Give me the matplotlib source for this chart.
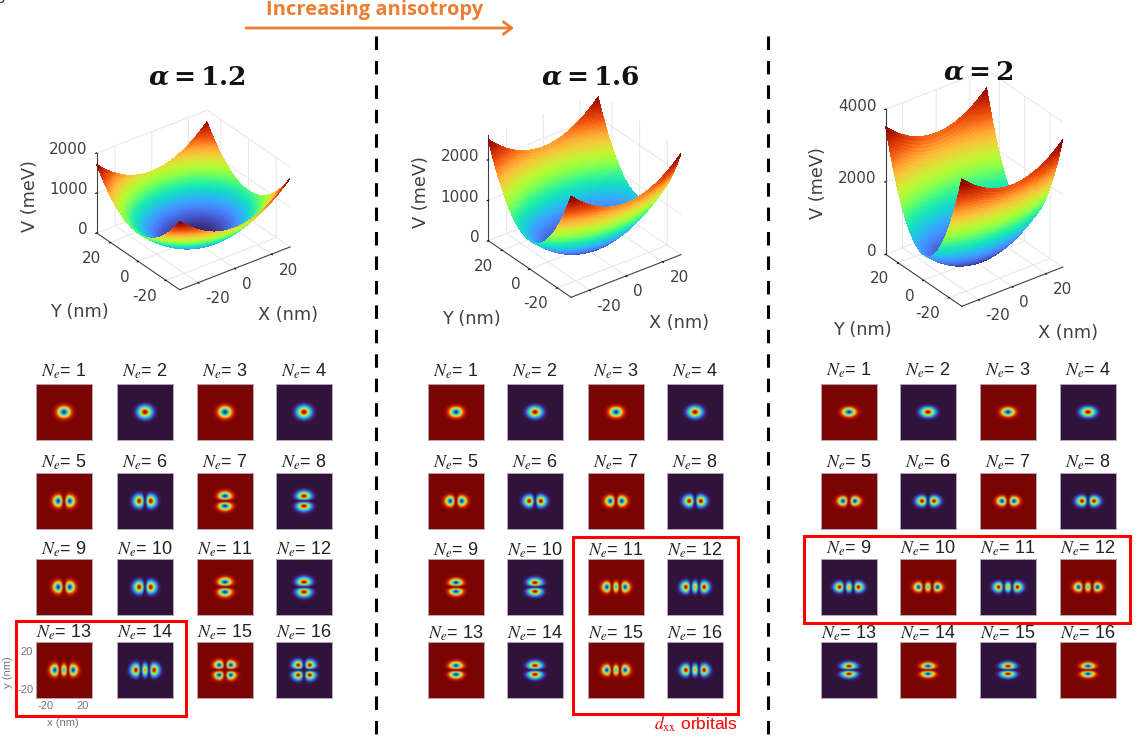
import numpy as np
import matplotlib
matplotlib.use('Agg')
import matplotlib.pyplot as plt
from matplotlib.patches import Rectangle
from mpl_toolkits.mplot3d import proj3d

plt.rcParams['font.family'] = ['Liberation Sans', 'DejaVu Sans']
plt.rcParams['grid.color'] = '#e6e6e6'
plt.rcParams['grid.linewidth'] = 0.7
plt.rcParams['axes.unicode_minus'] = False

W, H = 1136, 736

# potential model: V = k (x^2 + (alpha y)^2), corners at +-30 nm
alphas = ['1.2', '1.6', '2']
alpha_values = [1.2, 1.6, 2.0]
k_mev = 0.78
xy_limit = 30
z_tops = [2000, 2600, 4000]
z_ticks = [[0, 1000, 2000], [0, 1000, 2000], [0, 2000, 4000]]
xy_ticks = [-20, 0, 20]

# orbital quantum numbers for Ne = 1..16 in each panel
nx_1 = [0, 0, 0, 0, 1, 1, 0, 0, 1, 1, 0, 0, 2, 2, 1, 1]
ny_1 = [0, 0, 0, 0, 0, 0, 1, 1, 0, 0, 1, 1, 0, 0, 1, 1]
nx_2 = [0, 0, 0, 0, 1, 1, 1, 1, 0, 0, 2, 2, 0, 0, 2, 2]
ny_2 = [0, 0, 0, 0, 0, 0, 0, 0, 1, 1, 0, 0, 1, 1, 0, 0]
nx_3 = [0, 0, 0, 0, 1, 1, 1, 1, 2, 2, 2, 2, 0, 0, 0, 0]
ny_3 = [0, 0, 0, 0, 0, 0, 0, 0, 0, 0, 0, 0, 1, 1, 1, 1]
# orbital widths in nm
widths_x = [6.2, 6.2, 6.4]
widths_y = [5.3, 4.7, 4.1]
# 'r' = dark red background, 'p' = dark purple background
tile_bg_1 = list('rprprprprprprprp')
tile_bg_2 = list('rprprprprprprprp')
tile_bg_3 = list('rprprprpprprprpr')

# layout in reference pixels
tile_cols = [[36, 117, 197, 276], [428, 507, 588, 667], [821, 900, 980, 1060]]
tile_rows = [384, 473, 559, 642]
label_rows = [[371, 462, 549, 632], [371, 462, 550, 633], [370, 462, 548, 633]]
tile_size = 56
# left, front and right floor corners, and top of the z axis
floors = [
    [(96.7, 233.0), (180.0, 289.3), (290.0, 246.7), 153.3],
    [(488.3, 240.7), (572.3, 296.7), (681.0, 255.0), 136.7],
    [(885.7, 254.3), (961.7, 306.0), (1062.7, 267.3), 109.3],
]
title_pos = [(197, 78), (590, 78), (978, 73)]
v_label_pos = [(30, 196), (421, 192), (818, 183)]
y_label_pos = [(79, 312), (471, 319), (862, 330)]
x_label_pos = [(288, 315), (679, 323), (1068, 333)]
red_boxes = [(15.7, 620.7, 170, 95), (573, 537.3, 164.7, 176.7), (804, 536, 326, 87)]
divider_x = [376, 768]

ORANGE = '#ed7d31'
RED = '#fe0000'
TEXT = '#404040'


def px_rect(left, top, width, height):
    return [left / W, 1 - (top + height) / H, width / W, height / H]


def hermite(n, u):
    return [np.ones_like(u), u, 2 * u ** 2 - 1][n]


def orbital_density(nx, ny, wx, wy):
    x = np.linspace(-xy_limit, xy_limit, 121)
    xx, yy = np.meshgrid(x, x)
    psi = hermite(nx, xx / wx) * hermite(ny, yy / wy)
    rho = psi ** 2 * np.exp(-(xx / wx) ** 2 - (yy / wy) ** 2)
    return rho / rho.max()


def draw_tile(fig, left, top, nx, ny, wx, wy, bg):
    ax = fig.add_axes(px_rect(left, top, tile_size, tile_size))
    cmap = 'turbo_r' if bg == 'r' else 'turbo'
    ax.imshow(orbital_density(nx, ny, wx, wy), cmap=cmap, vmin=0, vmax=1, origin='lower',
              extent=[-xy_limit, xy_limit, -xy_limit, xy_limit], interpolation='bicubic')
    ax.set_xticks([])
    ax.set_yticks([])
    for spine in ax.spines.values():
        spine.set_color('#b5a5b5')
        spine.set_linewidth(0.7)
    return ax


def corner_pixels(ax, points):
    """ Project 3D points to reference pixels. """
    ax.apply_aspect()
    out = []
    for p in points:
        x2, y2, _ = proj3d.proj_transform(p[0], p[1], p[2], ax.get_proj())
        d = ax.transData.transform((x2, y2))
        out.append((d[0], H - d[1]))
    return out


def fit_axes(ax, floor):
    """ Move the 3D axes so the floor corners land where the reference has them. """
    left, front, right, _ = floor
    size = 400.0
    cx, cy = left[0] + 100, left[1]
    for _ in range(3):
        ax.set_position(px_rect(cx - size / 2, cy - size / 2, size, size))
        a, b = corner_pixels(ax, [(-xy_limit, xy_limit, 0), (xy_limit, -xy_limit, 0)])
        scale = (right[0] - left[0]) / (b[0] - a[0])
        size *= scale
        ax.set_position(px_rect(cx - size / 2, cy - size / 2, size, size))
        a = corner_pixels(ax, [(-xy_limit, xy_limit, 0)])[0]
        cx += left[0] - a[0]
        cy += left[1] - a[1]
    ax.set_position(px_rect(cx - size / 2, cy - size / 2, size, size))


def draw_surface(fig, i):
    floor = floors[i]
    zmax = z_tops[i]
    length = (floor[2][0] - floor[1][0]) / 0.8
    z_height = (floor[0][1] - floor[3])
    ax = fig.add_axes([0.1, 0.1, 0.3, 0.3], projection='3d', proj_type='ortho')
    ax.view_init(elev=31, azim=-127)
    ax.set_box_aspect((1, 1, z_height / np.cos(np.radians(31)) / length))
    ax.set_xlim(-xy_limit, xy_limit, view_margin=0)
    ax.set_ylim(-xy_limit, xy_limit, view_margin=0)
    ax.set_zlim(0, zmax, view_margin=0)
    fit_axes(ax, floor)
    ax.patch.set_visible(False)

    x = np.linspace(-xy_limit, xy_limit, 121)
    xx, yy = np.meshgrid(x, x)
    vv = k_mev * (xx ** 2 + (alpha_values[i] * yy) ** 2)
    colors = plt.get_cmap('turbo')(vv / vv.max())
    ax.plot_surface(xx, yy, vv, facecolors=colors, rcount=121, ccount=121,
                    shade=False, linewidth=0, antialiased=False)

    ax.set_xticks(xy_ticks)
    ax.set_yticks(xy_ticks)
    ax.set_zticks(z_ticks[i])
    # tick labels go on the overlay, mplot3d can not offset them the way the reference does
    ax.set_xticklabels([])
    ax.set_yticklabels([])
    ax.set_zticklabels([])
    for axis in (ax.xaxis, ax.yaxis, ax.zaxis):
        axis.set_pane_color((1, 1, 1, 0))
        axis.pane.set_edgecolor('#e6e6e6')
        axis.line.set_color(TEXT)
        axis.line.set_linewidth(0.8)
        axis._axinfo['tick'].update({'inward_factor': 0.12, 'outward_factor': 0.0, 'color': TEXT})
    return ax


def label_ticks(overlay, ax, i):
    """ Put tick labels next to the projected tick positions. """
    style = dict(fontsize=11, color=TEXT, family='DejaVu Sans', va='center')
    for t in xy_ticks:
        px, py = corner_pixels(ax, [(t, -xy_limit, 0)])[0]
        overlay.text(px + 7, py + 16, str(t), ha='left', **style)
        px, py = corner_pixels(ax, [(-xy_limit, t, 0)])[0]
        overlay.text(px - 9, py + 16, str(t), ha='right', **style)
    for t in z_ticks[i]:
        px, py = corner_pixels(ax, [(-xy_limit, xy_limit, t)])[0]
        overlay.text(px - 9, py - 3, str(t), ha='right', **style)


fig = plt.figure(figsize=(W / 100, H / 100), dpi=100, facecolor='white')

panel_nx = [nx_1, nx_2, nx_3]
panel_ny = [ny_1, ny_2, ny_3]
panel_bg = [tile_bg_1, tile_bg_2, tile_bg_3]

surfaces = []
for i in range(3):
    surfaces.append(draw_surface(fig, i))
    for j in range(16):
        row, col = j // 4, j % 4
        tile = draw_tile(fig, tile_cols[i][col], tile_rows[row], panel_nx[i][j], panel_ny[i][j],
                         widths_x[i], widths_y[i], panel_bg[i][j])
        if i == 0 and j == 12:
            tile.set_xticks([-20, 20], ['-20', '20'])
            tile.set_yticks([-20, 20], ['-20', '20'])
            tile.tick_params(length=0, labelsize=8, colors='#777777', pad=2)

# overlay in reference pixels for text, boxes and dividers
overlay = fig.add_axes([0, 0, 1, 1], zorder=10)
overlay.set_xlim(0, W)
overlay.set_ylim(H, 0)
overlay.axis('off')

for i in range(3):
    label_ticks(overlay, surfaces[i], i)
    overlay.text(*title_pos[i], r'$\boldsymbol{\alpha}\mathbf{=' + alphas[i] + '}$',
                 fontsize=19, math_fontfamily='dejavuserif', ha='center', va='center', color='#111111')
    overlay.text(*v_label_pos[i], 'V (meV)', fontsize=12.8, color=TEXT, rotation=90,
                 ha='center', va='center', family='DejaVu Sans')
    overlay.text(*y_label_pos[i], 'Y (nm)', fontsize=12.8, color=TEXT, ha='center', va='center',
                 family='DejaVu Sans')
    overlay.text(*x_label_pos[i], 'X (nm)', fontsize=12.8, color=TEXT, ha='center', va='center',
                 family='DejaVu Sans')
    for j in range(16):
        row, col = j // 4, j % 4
        overlay.text(tile_cols[i][col] + tile_size / 2, label_rows[i][row], rf'$N_e$= {j + 1}',
                     fontsize=13, math_fontfamily='stix', ha='center', va='center', color='#222222')
    left, top, width, height = red_boxes[i]
    overlay.add_patch(Rectangle((left, top), width, height, fill=False, edgecolor=RED, linewidth=2.2))

overlay.text(63, 723, 'x (nm)', fontsize=8, color='#777777', ha='center', va='center')
overlay.text(8, 672, 'y (nm)', fontsize=8, color='#777777', ha='center', va='center', rotation=90)
overlay.text(738, 724, r'$d_{\mathrm{xx}}$ orbitals', fontsize=12.5, color=RED, ha='right', va='center',
             math_fontfamily='stix')

for x in divider_x:
    overlay.plot([x, x], [36, 736], color='black', linewidth=2.2, dashes=(4.4, 3.6))

overlay.annotate('', xy=(514, 28), xytext=(246, 28),
                 arrowprops=dict(arrowstyle='->,head_length=0.6,head_width=0.45', color=ORANGE,
                                 linewidth=2.0, shrinkA=0, shrinkB=0))
overlay.text(375, 10, 'Increasing anisotropy', fontsize=14.5, fontweight='bold', color=ORANGE,
             family='Open Sans', ha='center', va='center')
overlay.text(-4, 6, 'b', fontsize=12, color=TEXT, ha='left', va='bottom')

fig.savefig('out.png', dpi=100)
